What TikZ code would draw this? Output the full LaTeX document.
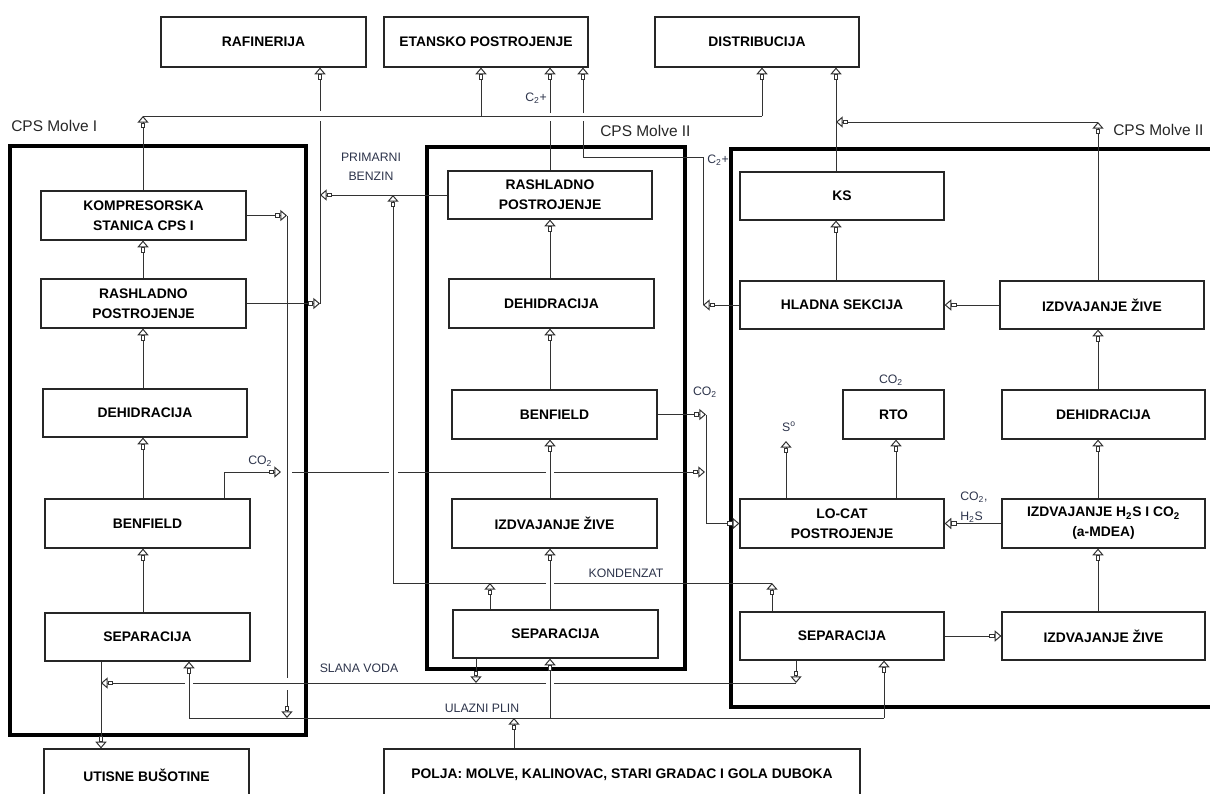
\documentclass[tikz,border=0pt]{standalone}
\usepackage{fontspec}
\setmainfont{Liberation Sans}
\usetikzlibrary{arrows.meta}
\definecolor{lblc}{RGB}{45,52,75}
\begin{document}
\begin{tikzpicture}[x=0.75pt,y=-0.75pt,
  box/.style={draw=black!85, line width=0.9pt, fill=white, inner sep=1pt, align=center,
    font=\bfseries\fontsize{10.4}{15}\selectfont},
  bx/.style 2 args={box, minimum width=#1*0.75pt, minimum height=#2*0.75pt},
  frame/.style={draw=black, line width=2.6pt},
  ln/.style={draw=black!80, line width=0.75pt},
  arr/.style={ln, -{Rectangle[fill=white,length=4pt,width=3.6pt,sep=0pt]Triangle[fill=white,length=5pt,width=8.4pt]}},
  lbl/.style={text=lblc, inner sep=0pt, font=\fontsize{9.2}{14}\selectfont},
  ttl/.style={text=black!85, inner sep=0pt, font=\fontsize{11.6}{14}\selectfont}]
\useasboundingbox (0,0) rectangle (1210,793);
\clip (0,0) rectangle (1210,793);

% frames
\draw[frame] (10,146) rectangle (306,735);
\draw[frame] (427,147) rectangle (685,669);
\draw[frame] (1215,149) -- (731,149) -- (731,707) -- (1215,707);

% boxes
\node[bx={205}{50}] (raf) at (263.5,42) {RAFINERIJA};
\node[bx={204}{50}] (etan) at (486,42) {ETANSKO POSTROJENJE};
\node[bx={204}{50}] (dist) at (757,42) {DISTRIBUCIJA};

\node[bx={205}{49}] (komp) at (143.5,215.5) {KOMPRESORSKA\\STANICA CPS I};
\node[bx={205}{49}] (rashL) at (143.5,303.5) {RASHLADNO\\POSTROJENJE};
\node[bx={204}{48}] (dehL) at (145,413) {DEHIDRACIJA};
\node[bx={205}{49}] (benL) at (147.5,523.5) {BENFIELD};
\node[bx={205}{48}] (sepL) at (147.5,637) {SEPARACIJA};
\node[bx={205}{52}] (utis) at (146.5,775) {UTISNE BUŠOTINE};

\node[bx={204}{48}] (rashC) at (550,195) {RASHLADNO\\POSTROJENJE};
\node[bx={205}{49}] (dehC) at (551.5,303.5) {DEHIDRACIJA};
\node[bx={205}{49}] (benC) at (554.5,414.5) {BENFIELD};
\node[bx={205}{49}] (izvC) at (554.5,523.5) {IZDVAJANJE ŽIVE};
\node[bx={205}{48}] (sepC) at (555.5,634) {SEPARACIJA};
\node[bx={476}{52}] (polja) at (622,775) {POLJA: MOLVE, KALINOVAC, STARI GRADAC I GOLA DUBOKA};

\node[bx={204}{48}] (ks) at (842,196) {KS};
\node[bx={204}{48}] (hlad) at (842,305) {HLADNA SEKCIJA};
\node[bx={204}{48}] (izvR1) at (1102,305) {IZDVAJANJE ŽIVE};
\node[bx={101}{49}] (rto) at (893.5,414.5) {RTO};
\node[bx={203}{49}] (dehR) at (1103.5,414.5) {DEHIDRACIJA};
\node[bx={204}{49}] (locat) at (842,523.5) {LO-CAT\\POSTROJENJE};
\node[bx={203}{49}] (h2s) at (1103.5,523.5) {IZDVAJANJE H\textsubscript{2}S I CO\textsubscript{2}\\(a-MDEA)};
\node[bx={204}{48}] (sepR) at (842,636) {SEPARACIJA};
\node[bx={203}{48}] (izvR2) at (1103.5,636) {IZDVAJANJE ŽIVE};

% column coordinates
\coordinate (xL) at (143,0);
\coordinate (xC) at (550,0);
\coordinate (xR) at (836,0);
\coordinate (xRR) at (1098,0);
\coordinate (xRTO) at (896,0);
\coordinate (v287) at (287,0);
\coordinate (v320) at (320,0);
\coordinate (v393) at (393,0);
\coordinate (v703) at (703,0);
\coordinate (v706) at (706,0);

% junctions
\coordinate (tA) at (143,116);
\coordinate (tE) at (481,116);
\coordinate (tD) at (762,116);
\coordinate (k1) at (287,678);
\coordinate (k2) at (287,690);
\coordinate (k3) at (287,718);
\coordinate (r1) at (320,121);
\coordinate (r2) at (320,111);
\coordinate (c1) at (550,121);
\coordinate (c2) at (550,113);
\coordinate (h1) at (703,157);
\coordinate (h2) at (583,157);
\coordinate (h3) at (583,121);
\coordinate (h4) at (583,113);
\coordinate (kC) at (490,583);
\coordinate (kR) at (772,583);
\coordinate (kg1) at (554,583);
\coordinate (kg2) at (546,583);
\coordinate (kL) at (393,583);
\coordinate (o1) at (224,472);
\coordinate (o2) at (281,472);
\coordinate (o3) at (292,472);
\coordinate (o4) at (389,472);
\coordinate (o5) at (398,472);
\coordinate (o6) at (546,472);
\coordinate (o7) at (554,472);
\coordinate (o8) at (705,472);
\coordinate (sR) at (796,683);
\coordinate (sC) at (476,683);
\coordinate (sg1) at (554,683);
\coordinate (sg2) at (546,683);
\coordinate (sg3) at (193,683);
\coordinate (sg4) at (185,683);
\coordinate (sL) at (101,683);
\coordinate (uL) at (189,718);
\coordinate (uP) at (514,718);
\coordinate (uC) at (550,718);
\coordinate (uR) at (884,718);
\coordinate (rr) at (1098,122);
\coordinate (rl) at (836,122);
\coordinate (so) at (786,441);

% left column
\draw[arr] (sepL.north -| xL) -- (benL.south -| xL);
\draw[arr] (benL.north -| xL) -- (dehL.south -| xL);
\draw[arr] (dehL.north -| xL) -- (rashL.south -| xL);
\draw[arr] (rashL.north -| xL) -- (komp.south -| xL);
\draw[arr] (komp.north -| xL) -- (tA);
\draw[ln] (tA) -- (tD);
\draw[arr] (tE) -- (etan.south -| tE);
\draw[arr] (tD) -- (dist.south -| tD);

\draw[arr] (komp.east) -- (komp.east -| v287);
\draw[ln] (komp.east -| v287) -- (k1);
\draw[arr] (k2) -- (k3);

\draw[arr] (rashL.east) -- (rashL.east -| v320);
\draw[ln] (rashL.east -| v320) -- (r1);
\draw[arr] (r2) -- (raf.south -| v320);
\draw[arr] (rashC.west) -- (rashC.west -| v320);

% kondenzat
\draw[arr] (sepC.north -| kC) -- (kC);
\draw[arr] (sepR.north -| kR) -- (kR);
\draw[ln] (kR) -- (kg1);
\draw[arr] (kg2) -- (kL) -- (rashC.west -| v393);

% CO2 from left benfield
\draw[arr] (benL.north -| o1) -- (o1) -- (o2);
\draw[ln] (o3) -- (o4);
\draw[ln] (o5) -- (o6);
\draw[arr] (o7) -- (o8);

% CO2 from centre benfield to LO-CAT
\draw[arr] (benC.east) -- (benC.east -| v706);
\draw[arr] (benC.east -| v706) -- (locat.west -| v706) -- (locat.west);

% C2+ from hladna sekcija
\draw[arr] (hlad.west) -- (hlad.west -| v703);
\draw[ln] (hlad.west -| v703) -- (h1) -- (h2) -- (h3);
\draw[arr] (h4) -- (etan.south -| h4);

% centre column
\draw[arr] (sepC.north -| xC) -- (izvC.south -| xC);
\draw[arr] (izvC.north -| xC) -- (benC.south -| xC);
\draw[arr] (benC.north -| xC) -- (dehC.south -| xC);
\draw[arr] (dehC.north -| xC) -- (rashC.south -| xC);
\draw[ln] (rashC.north -| xC) -- (c1);
\draw[arr] (c2) -- (etan.south -| xC);

% slana voda
\draw[arr] (sepR.south -| sR) -- (sR);
\draw[ln] (sR) -- (sg1);
\draw[ln] (sg2) -- (sg3);
\draw[arr] (sg4) -- (sL);
\draw[arr] (sepC.south -| sC) -- (sC);
\draw[arr] (sepL.south -| sL) -- (utis.north -| sL);

% ulazni plin
\draw[arr] (polja.north -| uP) -- (uP);
\draw[ln] (uL) -- (uR);
\draw[arr] (uL) -- (sepL.south -| uL);
\draw[arr] (uC) -- (sepC.south -| uC);
\draw[arr] (uR) -- (sepR.south -| uR);

% right part
\draw[arr] (hlad.north -| xR) -- (ks.south -| xR);
\draw[arr] (ks.north -| xR) -- (dist.south -| xR);
\draw[arr] (izvR1.west) -- (hlad.east);
\draw[arr] (izvR1.north -| xRR) -- (rr);
\draw[arr] (rr) -- (rl);
\draw[arr] (dehR.north -| xRR) -- (izvR1.south -| xRR);
\draw[arr] (h2s.north -| xRR) -- (dehR.south -| xRR);
\draw[arr] (izvR2.north -| xRR) -- (h2s.south -| xRR);
\draw[arr] (sepR.east) -- (izvR2.west);
\draw[arr] (h2s.west) -- (locat.east);
\draw[arr] (locat.north -| so) -- (so);
\draw[arr] (locat.north -| xRTO) -- (rto.south -| xRTO);

% labels
\node[lbl] (lc2a) at (536,98) {C\textsubscript{2}+};
\node[lbl, anchor=west] (lc2b) at (707,160) {C\textsubscript{2}+};
\node[ttl, anchor=west] (t1) at (11,126) {CPS Molve I};
\node[ttl, anchor=west] (t2) at (600,131) {CPS Molve II};
\node[ttl, anchor=west] (t3) at (1113,130) {CPS Molve II};
\node[lbl, align=center] (lpb) at (371,167) {PRIMARNI\\BENZIN};
\node[lbl, anchor=west] (lco1) at (248,461) {CO\textsubscript{2}};
\node[lbl] (lco2) at (705,392) {CO\textsubscript{2}};
\node[lbl] (lco3) at (891,380) {CO\textsubscript{2}};
\node[lbl] (lso) at (789,427) {S\textsuperscript{o}};
\node[lbl, anchor=west, align=left, font=\fontsize{9.2}{15}\selectfont] (lch) at (960,507) {CO\textsubscript{2},\\H\textsubscript{2}S};
\node[lbl] (lkon) at (626,573) {KONDENZAT};
\node[lbl] (lsv) at (359,668) {SLANA VODA};
\node[lbl] (lup) at (482,708) {ULAZNI PLIN};
\end{tikzpicture}
\end{document}
